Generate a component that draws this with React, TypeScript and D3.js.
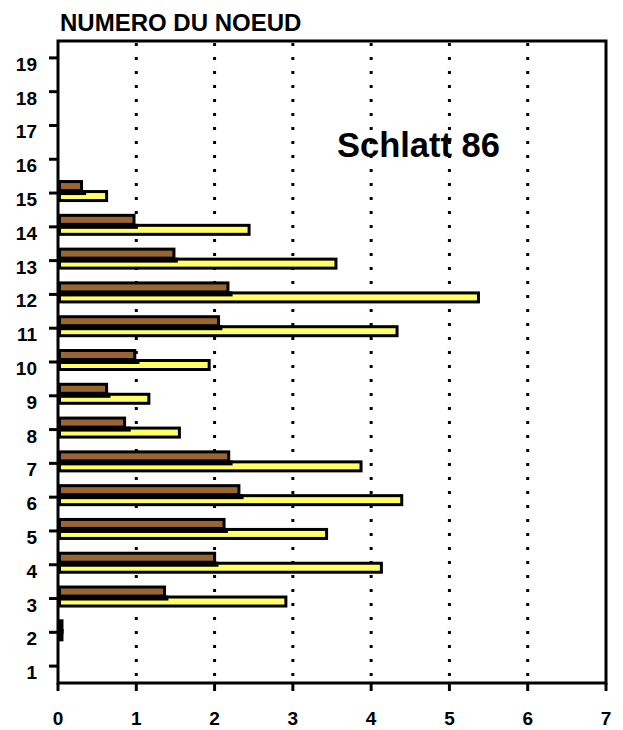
import React from "react";
import * as d3 from "d3";

// Node numbers on the vertical axis
const nodes = [1, 2, 3, 4, 5, 6, 7, 8, 9, 10, 11, 12, 13, 14, 15, 16, 17, 18, 19];
// Upper (brown) series, one value per node
const brownValues = [0, 0.07, 1.38, 2.02, 2.14, 2.33, 2.2, 0.87, 0.64, 1.0, 2.07, 2.19, 1.5, 0.99, 0.32, 0, 0, 0, 0];
// Middle (black) series
const blackValues = [0, 0.07, 1.41, 2.05, 2.17, 2.37, 2.23, 0.93, 0.67, 1.04, 2.1, 2.23, 1.53, 1.02, 0.36, 0, 0, 0, 0];
// Lower (yellow) series
const yellowValues = [0, 0.07, 2.93, 4.15, 3.45, 4.41, 3.89, 1.57, 1.18, 1.95, 4.35, 5.39, 3.57, 2.46, 0.64, 0, 0, 0, 0];
const xTicks = [0, 1, 2, 3, 4, 5, 6, 7];
const gridTicks = [1, 2, 3, 4, 5, 6];

const W = 623;
const H = 730;
const left = 58;
const right = 606;
const top = 41;
const bottom = 683;
const FONT = "'Liberation Sans', Arial, Helvetica, sans-serif";
const SW = 3; // bar outline width

export default function App() {
  const x = d3.scaleLinear().domain([0, 7]).range([left, right]);
  const y = d3
    .scaleBand<number>()
    .domain([...nodes].reverse())
    .range([top, bottom]);
  const c = (n: number) => (y(n) as number) + y.bandwidth() / 2;

  // rect whose outline stays inside the given outer bounds
  const barRect = (key: string, v: number, y0: number, y1: number, fill: string) => {
    const x0 = x(0);
    const x1 = Math.max(x(v), x0 + SW + 1);
    return (
      <rect
        key={key}
        x={x0 + SW / 2}
        y={y0 + SW / 2}
        width={x1 - x0 - SW}
        height={y1 - y0 - SW}
        fill={fill}
        stroke="#000"
        strokeWidth={SW}
      />
    );
  };

  return (
    <svg
      width={W}
      height={H}
      style={{ position: "absolute", left: 0, top: 0, background: "#fff" }}
      fontFamily={FONT}
    >
      <rect x={0} y={0} width={W} height={H} fill="#fff" />

      {/* dotted vertical gridlines */}
      {gridTicks.map((t) => (
        <line
          key={"g" + t}
          x1={x(t)}
          x2={x(t)}
          y1={top + 2}
          y2={bottom}
          stroke="#000"
          strokeWidth={3}
          strokeDasharray="3 11"
        />
      ))}

      {/* yellow bars */}
      {nodes.map((n, i) =>
        yellowValues[i] > 0 ? barRect("y" + n, yellowValues[i], c(n) - 3, c(n) + 9, "#ffff66") : null
      )}

      {/* black bars */}
      {nodes.map((n, i) =>
        blackValues[i] > 0 ? (
          <rect
            key={"k" + n}
            x={x(0)}
            y={c(n) - 3}
            width={x(blackValues[i]) - x(0)}
            height={5}
            fill="#000"
          />
        ) : null
      )}

      {/* brown bars */}
      {nodes.map((n, i) =>
        brownValues[i] > 0 ? barRect("b" + n, brownValues[i], c(n) - 13, c(n) - 1, "#996633") : null
      )}

      {/* plot frame */}
      <rect
        x={left}
        y={top}
        width={right - left}
        height={bottom - top}
        fill="none"
        stroke="#000"
        strokeWidth={3}
      />

      {/* y axis ticks and labels */}
      {nodes.map((n) => (
        <g key={"yt" + n}>
          <line x1={left - 9} x2={left} y1={c(n)} y2={c(n)} stroke="#000" strokeWidth={3} />
          <text
            x={37}
            y={c(n) + 13}
            textAnchor="end"
            fontSize={19}
            fontWeight="bold"
            fill="#000"
          >
            {n}
          </text>
        </g>
      ))}

      {/* x axis ticks and labels */}
      {xTicks.map((t) => (
        <g key={"xt" + t}>
          <line x1={x(t)} x2={x(t)} y1={bottom} y2={bottom + 8} stroke="#000" strokeWidth={3} />
          <text
            x={x(t)}
            y={725}
            textAnchor="middle"
            fontSize={19}
            fontWeight="bold"
            fill="#000"
          >
            {t}
          </text>
        </g>
      ))}

      <text x={60} y={31} fontSize={24} fontWeight="bold" fill="#000">
        NUMERO DU NOEUD
      </text>
      <text x={337} y={157} fontSize={34.5} fontWeight="bold" fill="#000">
        Schlatt 86
      </text>
    </svg>
  );
}
